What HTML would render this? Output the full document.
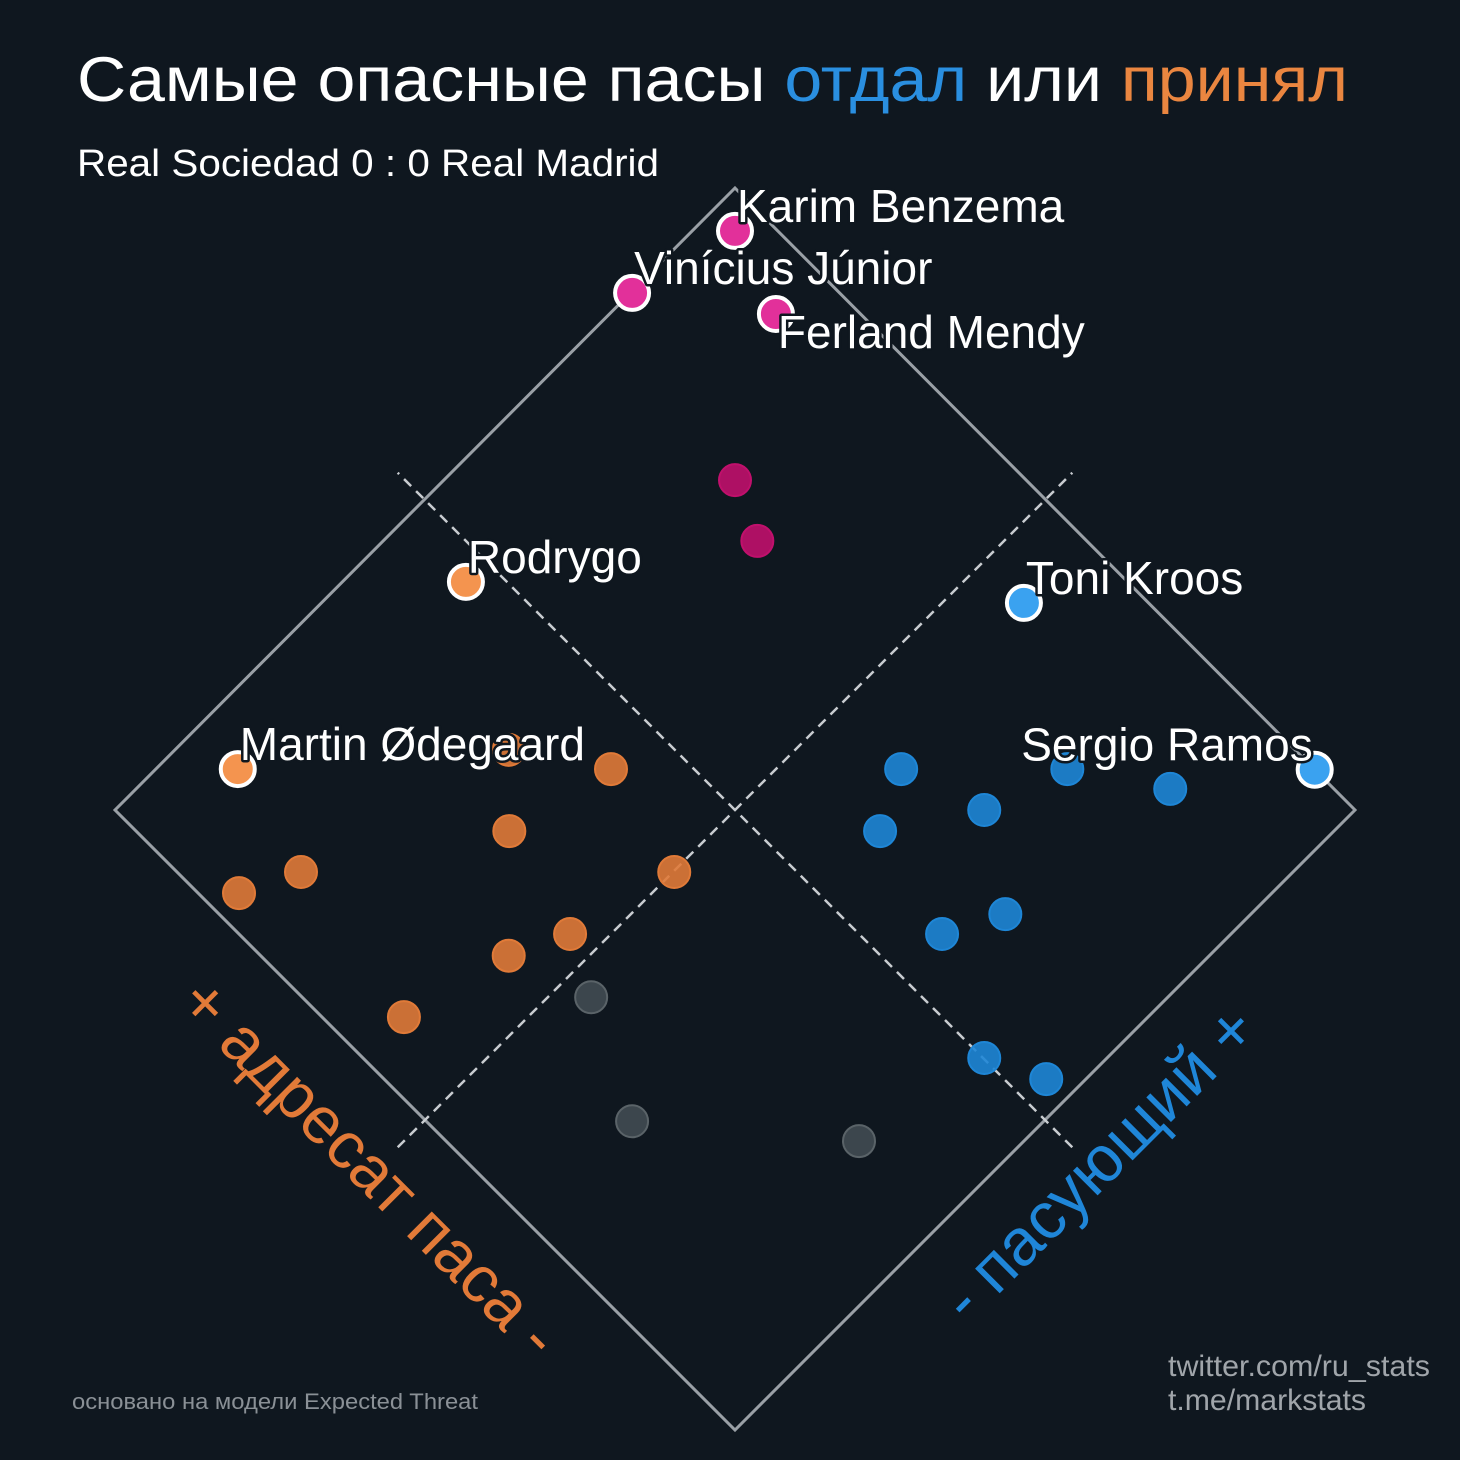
<!DOCTYPE html>
<html><head><meta charset="utf-8"><style>
html,body{margin:0;padding:0;background:#0f171f;}
svg{display:block;font-family:"Liberation Sans",sans-serif;}
.lbl{fill:#fff;font-size:46px;stroke:#0f171f;stroke-width:5px;paint-order:stroke;stroke-linejoin:round;}
</style></head><body>
<svg id="chart" width="1460" height="1460" viewBox="0 0 1460 1460">
<rect width="1460" height="1460" fill="#0f171f"/>
<text x="77" y="101" font-size="63" fill="#fff" textLength="1271" lengthAdjust="spacingAndGlyphs">Самые опасные пасы <tspan fill="#2a8fe0">отдал</tspan> или <tspan fill="#ea8640">принял</tspan></text>
<text x="77" y="176" font-size="38" fill="#fff" textLength="582" lengthAdjust="spacingAndGlyphs">Real Sociedad 0 : 0 Real Madrid</text>
<polygon points="735,188 1355,810 735,1430 115,810" fill="none" stroke="#9aa0a6" stroke-width="3"/>
<g id="dash"></g>
<g id="pts"></g>
<g id="lbls"></g>
<text transform="translate(176,1005) rotate(45)" font-size="66" fill="#e27a38">+ адресат паса -</text>
<text transform="translate(968,1325) rotate(-45)" font-size="66" fill="#1f86d8">- пасующий +</text>
<text x="72" y="1409" font-size="22" fill="#8a9096" textLength="406" lengthAdjust="spacingAndGlyphs">основано на модели Expected Threat</text>
<text x="1168" y="1376" font-size="30" fill="#a0a5aa" textLength="262" lengthAdjust="spacingAndGlyphs">twitter.com/ru_stats</text>
<text x="1168" y="1410" font-size="30" fill="#a0a5aa" textLength="198" lengthAdjust="spacingAndGlyphs">t.me/markstats</text>
</svg>
<script>
const names=["Karim Benzema","Vinícius Júnior","Ferland Mendy","","","Rodrygo","Toni Kroos","Sergio Ramos","Martin Ødegaard","","","","","","","","","","","","","","","","","","","","",""];
const passVals=[0.967,0.834,0.933,0.766,0.735,0.467,0.900,1.000,0.132,0.366,0.433,0.301,0.033,0.100,0.401,0.267,0.200,0.066,0.667,0.801,0.868,0.701,0.600,0.634,0.567,0.501,0.534,0.233,0.166,0.333];
const recvVals=[0.967,1.000,0.867,0.766,0.699,0.901,0.434,0.065,0.934,0.731,0.633,0.665,0.833,0.800,0.499,0.533,0.565,0.600,0.399,0.265,0.166,0.299,0.366,0.198,0.233,0.099,0.032,0.465,0.332,0.133];
const groups=["top","top","top","top","top","recv","pass","pass","recv","recv","recv","recv","recv","recv","recv","recv","recv","recv","pass","pass","pass","pass","pass","pass","pass","pass","pass","none","none","none"];
const NS="http://www.w3.org/2000/svg";
const cx=735, by=1430, S=620;
function px(p,r){return cx+S*(p-r);}
function py(p,r){return by-S*(p+r);}
const dash=document.getElementById('dash');
[[0.5,-0.044,0.5,1.044],[-0.044,0.5,1.044,0.5]].forEach((d,i)=>{
 const l=document.createElementNS(NS,'line');
 l.setAttribute('x1',px(d[0],d[1]));l.setAttribute('y1',py(d[0],d[1]));
 l.setAttribute('x2',px(d[2],d[3]));l.setAttribute('y2',py(d[2],d[3]));
 l.setAttribute('stroke','#c8ccd0');l.setAttribute('stroke-width','2.5');l.setAttribute('stroke-dasharray','10 7');
 
 
 dash.appendChild(l);
});
const col={top:["#c0106c","#e2309a"],recv:["#e07a38","#f4944f"],pass:["#1e86d6","#3aa2f0"],none:["#414b52","#414b52"]};
const pts=document.getElementById('pts'), lbls=document.getElementById('lbls');
passVals.forEach((p,i)=>{
 const r=recvVals[i], g=groups[i], named=names[i]!=="";
 const c=document.createElementNS(NS,'circle');
 const x=px(p,r), y=py(p,r);
 c.setAttribute('cx',x);c.setAttribute('cy',y);
 c.setAttribute('r',named?17:16);
 c.setAttribute('fill',col[g][named?1:0]);
 if(named){c.setAttribute('stroke','#fff');c.setAttribute('stroke-width','4');}
 else {c.setAttribute('fill-opacity','0.9');c.setAttribute('stroke',g=='none'?'#5a6368':col[g][0]);c.setAttribute('stroke-width','2');}
 
 
 pts.appendChild(c);
 if(named){
  const t=document.createElementNS(NS,'text');
  let tx=x+2, ty=y-9;
  if(names[i]==="Ferland Mendy"){ty=y+34;}
  if(names[i]==="Sergio Ramos"){tx=x-2;t.setAttribute('text-anchor','end');}
  t.setAttribute('x',tx);t.setAttribute('y',ty);
  t.setAttribute('class','lbl');t.textContent=names[i];
  
  
  lbls.appendChild(t);
 }
});
</script>
</body></html>
